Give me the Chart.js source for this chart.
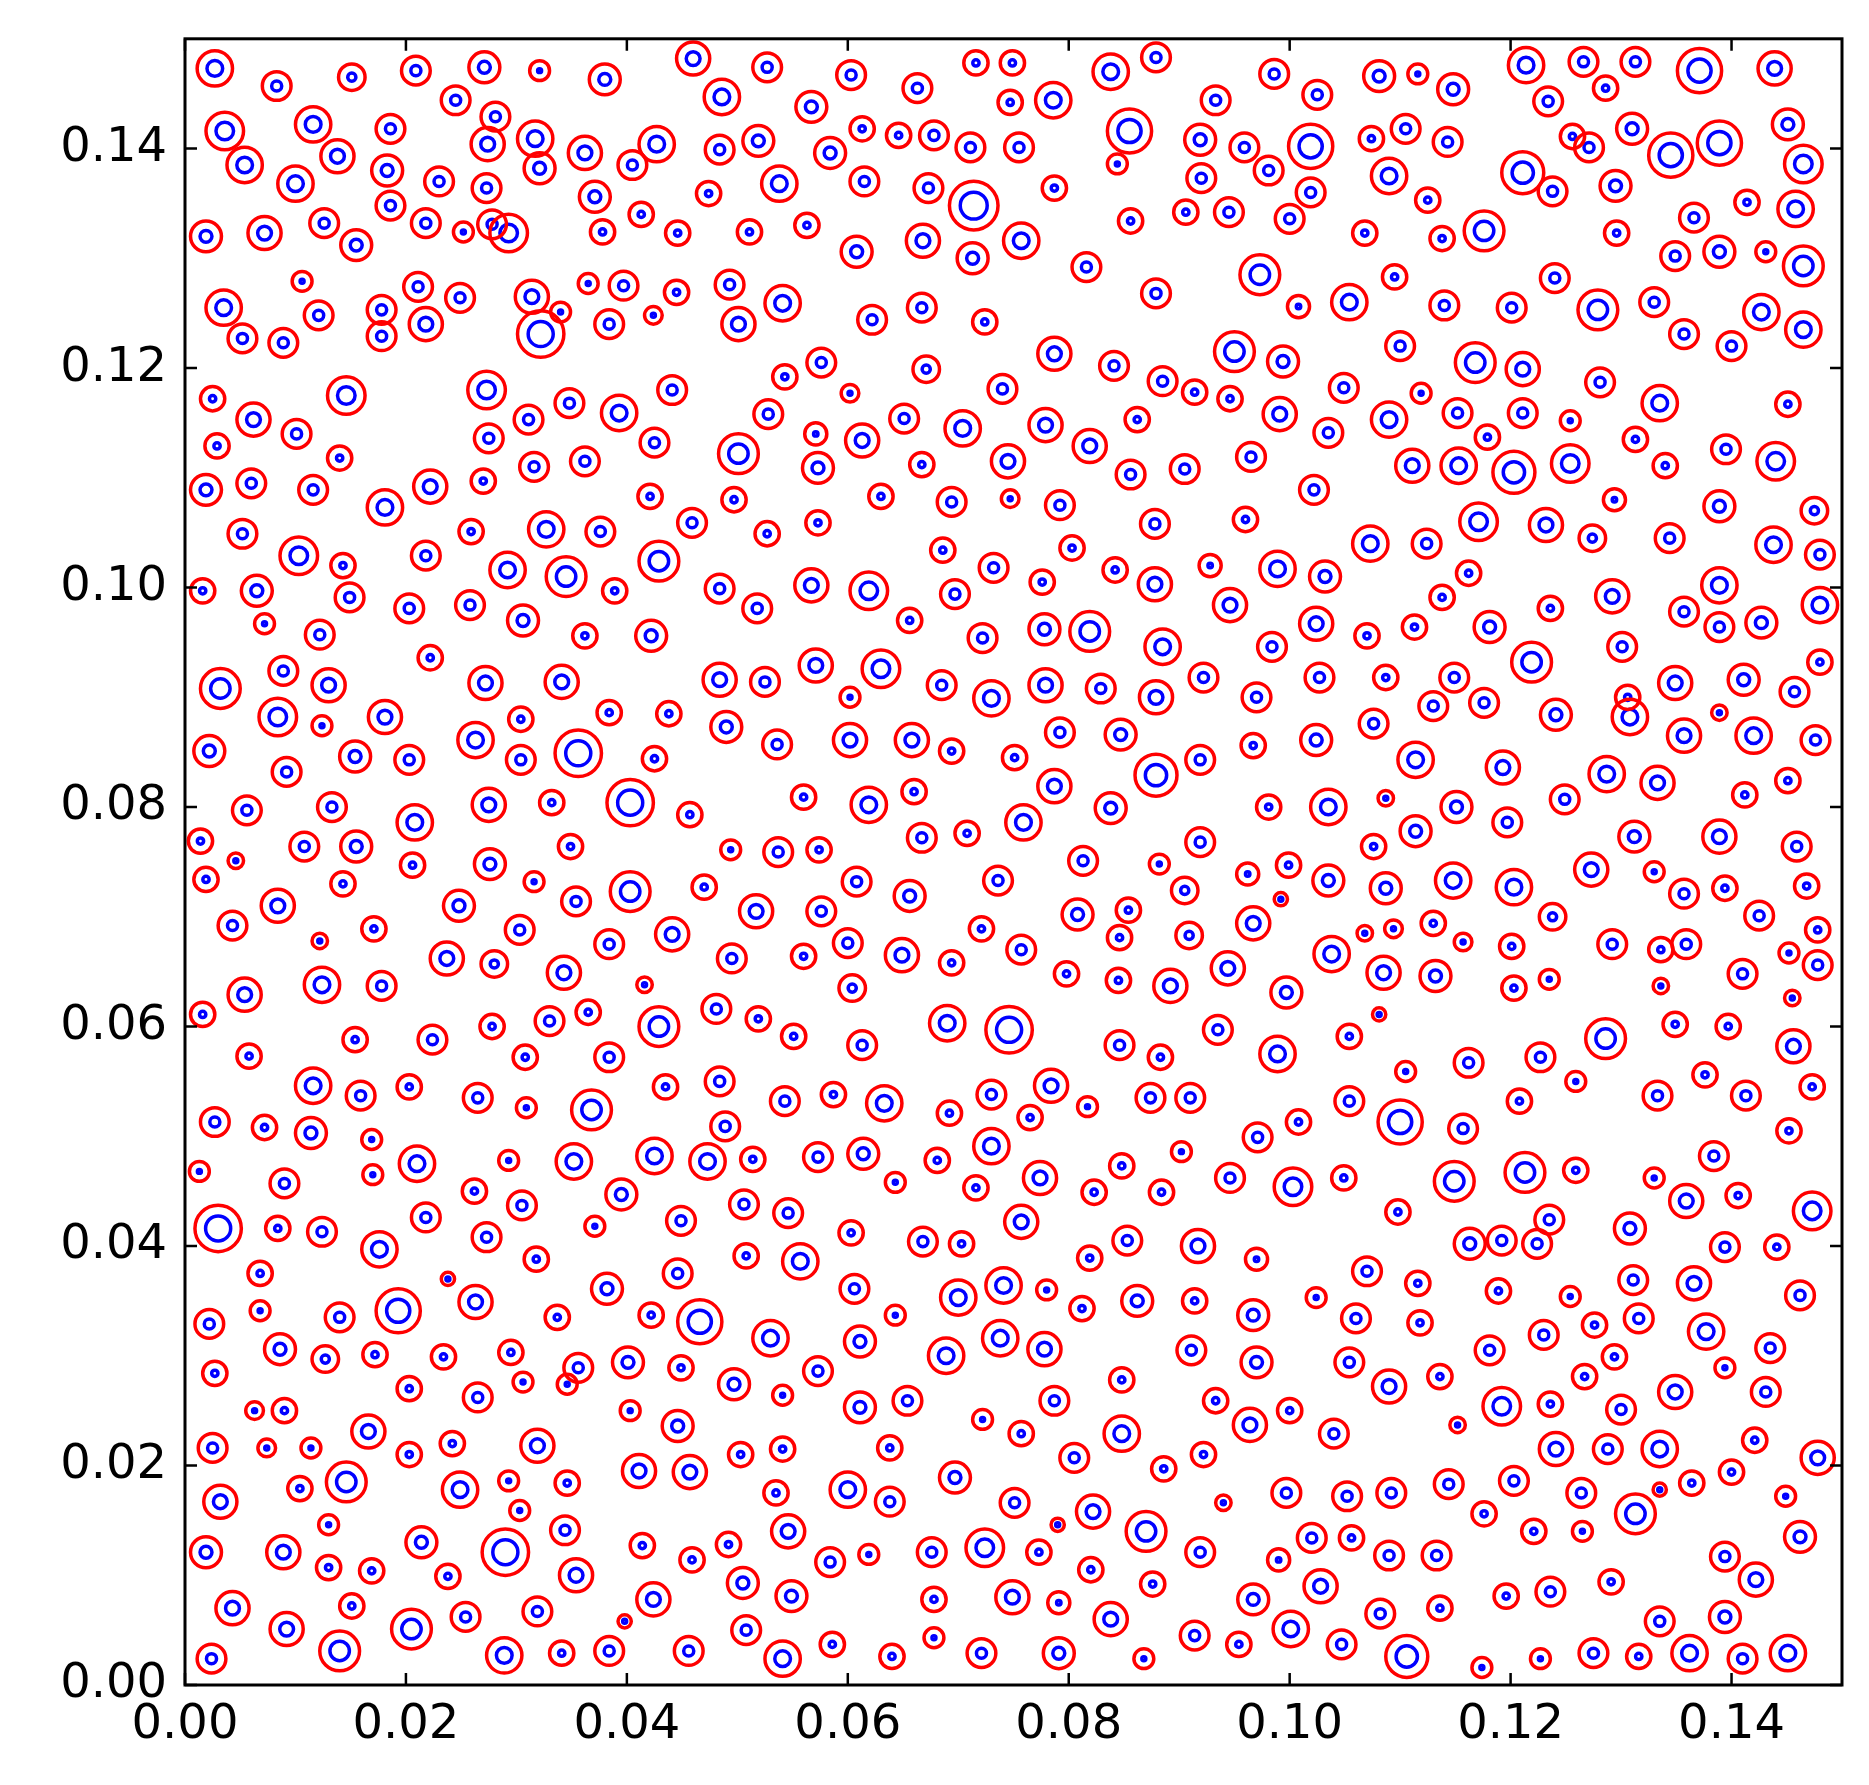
<!DOCTYPE html>
<html>
<head>
<meta charset="utf-8">
<script src="https://cdn.jsdelivr.net/npm/chart.js@4.4.1/dist/chart.umd.min.js"></script>
<style>
  body { margin: 0; background: #fff; }
  #wrap { width: 1869px; height: 1785px; }
</style>
</head>
<body>
<div id="wrap"><canvas id="myChart" width="1869" height="1785"></canvas></div>
<script>
// tick values on both axes
const xTicks = [0, 0.02, 0.04, 0.06, 0.08, 0.10, 0.12, 0.14];
const yTicks = [0, 0.02, 0.04, 0.06, 0.08, 0.10, 0.12, 0.14];

// particles: [x, y, outer shell radius] (all in data units)
const shells = [
[.0027,.1473,.0016],[.0083,.1457,.0013],[.0151,.1465,.0012],[.0209,.1471,.0013],[.0245,.1444,.0013],[.0271,.1474,.0014],[.0321,.1471,.0009],[.038,.1463,.0014],[.046,.1482,.0015],[.0486,.1447,.0016],[.0527,.1474,.0013],[.0567,.1438,.0014],[.0603,.1467,.0013],[.0663,.1455,.0013],[.0716,.1478,.0011],[.0749,.1478,.0011],[.0747,.1442,.0011],[.0786,.1444,.0016],[.0838,.1470,.0016],[.0879,.1483,.0013],[.0855,.1416,.002],[.0933,.1444,.0013],[.0986,.1468,.0013],[.1025,.1449,.0013],[.1081,.1466,.0014],[.1116,.1468,.0009],[.1148,.1454,.0014],[.1214,.1476,.0016],[.1234,.1443,.0013],[.1266,.1479,.0013],[.1286,.1455,.0011],[.1313,.1479,.0013],[.1371,.1471,.002],[.1439,.1473,.0015],[.1451,.1422,.0014],[.1389,.1405,.002],
[.0036,.1416,.0017],[.0116,.1422,.0016],[.0186,.1418,.0013],[.0281,.1429,.0013],[.0317,.1409,.0016],[.0362,.1396,.0015],[.0427,.1404,.0016],[.0519,.1407,.0014],[.0613,.1418,.0011],[.0678,.1412,.0013],[.1019,.1402,.002],[.1105,.1418,.0013],[.1074,.1409,.0011],[.1256,.1411,.0011],[.1310,.1418,.0014],
[.0054,.1385,.0016],[.0138,.1393,.0015],[.0183,.1380,.0014],[.0274,.1404,.0015],[.0321,.1382,.0014],[.0405,.1385,.0013],[.0484,.1399,.0013],[.0584,.1396,.0014],[.0646,.1412,.0011],[.0711,.1401,.0013],[.0755,.1401,.0013],[.0844,.1386,.0009],[.0919,.1408,.0014],[.0959,.1401,.0013],[.1143,.1406,.0013],[.1211,.1378,.0019],[.1271,.1401,.0013],[.1345,.1394,.002],[.1465,.1386,.0017],
[.0019,.1320,.0014],[.0100,.1368,.0016],[.0126,.1332,.0013],[.0186,.1348,.0013],[.0230,.1370,.0013],[.0273,.1364,.0013],[.0278,.1331,.0013],[.0371,.1356,.0014],[.0413,.1340,.0011],[.0474,.1359,.0011],[.0538,.1368,.0016],[.0615,.1370,.0013],[.0673,.1364,.0013],[.0714,.1348,.0022],[.0787,.1364,.0011],[.0920,.1373,.0013],[.0981,.1380,.0013],[.1019,.1360,.0013],[.1090,.1375,.0016],[.1125,.1353,.0011],[.1238,.1361,.0013],[.1295,.1366,.0014],[.1366,.1337,.0013],[.1414,.1351,.0011],[.1458,.1345,.0016],
[.0072,.1323,.0015],[.0155,.1312,.0014],[.0218,.1332,.0013],[.0252,.1324,.0009],[.0293,.1323,.0017],[.0378,.1324,.0011],[.0446,.1323,.0011],[.0511,.1324,.0011],[.0563,.1330,.0011],[.0668,.1316,.0015],[.0757,.1316,.0016],[.0856,.1334,.0011],[.0906,.1342,.0011],[.0945,.1342,.0013],[.1000,.1336,.0013],[.1068,.1323,.0011],[.1138,.1318,.0011],[.1176,.1325,.0018],[.1296,.1323,.0011],[.1389,.1306,.0014],[.1431,.1306,.0009],[.1465,.1293,.0018],
[.0106,.1279,.0009],[.0035,.1255,.0016],[.0121,.1248,.0013],[.0178,.1253,.0013],[.0211,.1274,.0013],[.0249,.1264,.0013],[.0314,.1265,.0015],[.0340,.1251,.0009],[.0365,.1277,.0009],[.0397,.1275,.0013],[.0424,.1248,.0008],[.0445,.1269,.0011],[.0493,.1276,.0013],[.0541,.1259,.0016],[.0608,.1306,.0014],[.0622,.1244,.0013],[.0667,.1255,.0013],[.0713,.1300,.0014],[.0724,.1242,.0011],[.0816,.1292,.0013],[.0879,.1268,.0013],[.0973,.1285,.0018],[.1008,.1256,.0010],[.1054,.1260,.0016],[.1095,.1283,.0011],[.1140,.1257,.0013],[.1201,.1255,.0013],[.1240,.1282,.0013],[.1279,.1253,.0018],[.1330,.1260,.0013],[.1349,.1302,.0013],[.1427,.1251,.0016],[.1465,.1235,.0016],
[.0025,.1172,.0011],[.0052,.1227,.0013],[.0089,.1223,.0013],[.0029,.1129,.0011],[.0062,.1153,.0015],[.0101,.1140,.0013],[.0146,.1175,.0017],[.0178,.1229,.0013],[.0218,.1240,.0015],[.0273,.1180,.0017],[.0275,.1136,.0013],[.0311,.1153,.0013],[.0322,.1231,.0021],[.0348,.1168,.0013],[.0384,.1240,.0013],[.0393,.1159,.0016],[.0441,.1180,.0013],[.0425,.1132,.0013],[.0501,.1240,.0015],[.0543,.1192,.0011],[.0576,.1205,.0013],[.0528,.1158,.0013],[.0501,.1122,.0018],[.0571,.1140,.0010],[.0573,.1109,.0014],[.0602,.1177,.0008],[.0613,.1134,.0015],[.0651,.1154,.0013],[.0671,.1199,.0012],[.0667,.1112,.0011],[.0704,.1145,.0016],[.0740,.1181,.0013],[.0745,.1115,.0015],[.0779,.1148,.0015],[.0787,.1213,.0015],[.0841,.1202,.0013],[.0819,.1129,.0015],[.0862,.1153,.0011],[.0885,.1188,.0013],[.0914,.1178,.0011],[.0946,.1172,.0011],[.0950,.1215,.0018],[.0994,.1206,.0014],[.0991,.1158,.0015],[.1035,.1141,.0013],[.1049,.1182,.0013],[.1100,.1220,.0013],[.1090,.1153,.0016],[.1119,.1177,.0009],[.1168,.1205,.0018],[.1211,.1199,.0015],[.1152,.1159,.0013],[.1179,.1137,.0011],[.1211,.1159,.0013],[.1254,.1152,.0009],[.1281,.1187,.0013],[.1335,.1168,.0016],[.1357,.1231,.0013],[.1400,.1220,.0013],[.1451,.1167,.0011],
[.1440,.1115,.0017],[.1395,.1126,.0013],[.1340,.1111,.0011],[.1313,.1135,.0011],[.1254,.1113,.0017],[.1203,.1105,.0019],[.1153,.1111,.0016],[.1111,.1111,.0015],[.1022,.1089,.0013],[.0965,.1119,.0013],[.0905,.1108,.0013],[.0856,.1103,.0013],[.0792,.1075,.0013],[.0747,.1081,.0008],[.0694,.1078,.0013],[.0630,.1083,.0011],[.0497,.1080,.0011],[.0421,.1083,.0011],[.0362,.1115,.0013],[.0316,.1110,.0013],[.0222,.1092,.0015],[.0270,.1097,.0011],[.0181,.1073,.0016],[.0140,.1118,.0011],[.0116,.1089,.0013],[.0060,.1095,.0013],[.0019,.1089,.0014],
[.0052,.1049,.0013],[.0103,.1029,.0017],[.0143,.1020,.0011],[.0218,.1029,.0013],[.0259,.1051,.0011],[.0327,.1053,.0016],[.0376,.1051,.0013],[.0429,.1024,.0018],[.0459,.1059,.0013],[.0527,.1049,.0011],[.0573,.1059,.0011],[.0686,.1034,.0011],[.0732,.1018,.0013],[.0803,.1036,.0011],[.0878,.1058,.0013],[.0960,.1062,.0011],[.1073,.1040,.0016],[.1124,.1040,.0013],[.1171,.1060,.0017],[.1232,.1057,.0015],[.1274,.1045,.0012],[.1294,.1080,.0010],[.1344,.1045,.0013],[.1389,.1074,.0014],[.1475,.1070,.0012],[.1438,.1039,.0016],[.1480,.1030,.0013],
[.0016,.0997,.0011],[.0065,.0997,.0014],[.0072,.0967,.0009],[.0122,.0957,.0013],[.0149,.0991,.0013],[.0203,.0981,.0013],[.0258,.0984,.0013],[.0292,.1016,.0016],[.0345,.1010,.0018],[.0306,.0970,.0014],[.0362,.0956,.0011],[.0389,.0997,.0011],[.0422,.0956,.0014],[.0484,.0999,.0013],[.0518,.0981,.0013],[.0567,.1002,.0015],[.0619,.0997,.0017],[.0656,.0970,.0011],[.0697,.0994,.0013],[.0722,.0954,.0013],[.0776,.1005,.0011],[.0778,.0962,.0014],[.0819,.0960,.0018],[.0842,.1016,.0011],[.0878,.1003,.0015],[.0885,.0946,.0016],[.0928,.1020,.0010],[.0946,.0984,.0015],[.0989,.1017,.0016],[.1032,.1010,.0014],[.1024,.0967,.0015],[.0984,.0946,.0013],[.1070,.0956,.0011],[.1113,.0964,.0011],[.1138,.0991,.0011],[.1162,.1013,.0011],[.1181,.0964,.0014],[.1219,.0932,.0018],[.1236,.0981,.0011],[.1292,.0992,.0015],[.1301,.0946,.0013],[.1357,.0978,.0013],[.1389,.1002,.0016],[.1389,.0964,.0013],[.1427,.0968,.0014],[.1480,.0984,.0016],[.1480,.0932,.0011],
[.1457,.0905,.0013],[.1411,.0916,.0014],[.1349,.0913,.0015],[.1306,.0900,.0011],[.1389,.0886,.0007],[.1357,.0865,.0015],[.1420,.0865,.0016],[.1476,.0861,.0013],[.1308,.0882,.0016],[.1241,.0884,.0014],[.1176,.0895,.0013],[.1149,.0918,.0013],[.1130,.0892,.0013],[.1087,.0918,.0011],[.1076,.0876,.0013],[.1114,.0843,.0016],[.1193,.0836,.0015],[.1249,.0807,.0013],[.1287,.0830,.0016],[.1333,.0822,.0015],[.1412,.0811,.0011],[.1451,.0824,.0011],[.1027,.0918,.0013],[.1024,.0861,.0014],[.0970,.0900,.0013],[.0967,.0856,.0011],[.0922,.0918,.0013],[.0919,.0843,.0013],[.0879,.0900,.0015],[.0879,.0829,.0019],[.0847,.0866,.0014],[.0829,.0908,.0013],[.0792,.0868,.0013],[.0779,.0911,.0015],[.0730,.0899,.0016],[.0751,.0845,.0011],[.0685,.0911,.0013],[.0694,.0851,.0011],[.0658,.0861,.0015],[.0602,.0861,.0015],[.0630,.0926,.0017],[.0571,.0929,.0015],[.0602,.0900,.0009],[.0525,.0914,.0013],[.0484,.0916,.0015],[.0490,.0873,.0014],[.0536,.0857,.0013],[.0438,.0885,.0011],[.0425,.0844,.0011],[.0384,.0886,.0011],[.0356,.0849,.0021],[.0341,.0914,.0015],[.0304,.0880,.0011],[.0304,.0843,.0013],[.0263,.0861,.0016],[.0272,.0913,.0015],[.0222,.0936,.0011],[.0203,.0843,.0013],[.0181,.0882,.0015],[.0154,.0846,.0014],[.0130,.0911,.0015],[.0124,.0874,.0009],[.0089,.0924,.0013],[.0084,.0882,.0017],[.0032,.0908,.0018],[.0022,.0851,.0014],[.0092,.0832,.0013],[.0056,.0797,.0013],
[.0014,.0769,.0011],[.0019,.0734,.0011],[.0046,.0751,.0007],[.0084,.0710,.0015],[.0043,.0692,.0013],[.0108,.0764,.0013],[.0133,.0800,.0013],[.0155,.0764,.0014],[.0143,.0730,.0011],[.0122,.0678,.0007],[.0208,.0786,.0016],[.0206,.0747,.0011],[.0171,.0689,.0011],[.0275,.0802,.0015],[.0276,.0748,.0014],[.0248,.0710,.0014],[.0237,.0662,.0015],[.0280,.0657,.0012],[.0316,.0732,.0009],[.0332,.0804,.0011],[.0349,.0764,.0011],[.0354,.0714,.0013],[.0303,.0688,.0013],[.0343,.0649,.0015],[.0384,.0675,.0013],[.0403,.0804,.0021],[.0403,.0723,.0018],[.0457,.0793,.0011],[.0470,.0727,.0011],[.0441,.0684,.0015],[.0416,.0638,.0007],[.0494,.0761,.0009],[.0517,.0705,.0015],[.0537,.0759,.0013],[.0495,.0662,.0013],[.0574,.0761,.0011],[.0576,.0705,.0013],[.0560,.0664,.0011],[.0600,.0676,.0013],[.0604,.0635,.0012],[.0608,.0732,.0013],[.0560,.0809,.0011],[.0619,.0802,.0016],[.0660,.0814,.0011],[.0667,.0772,.0013],[.0656,.0719,.0014],[.0649,.0665,.0015],[.0694,.0658,.0011],[.0708,.0776,.0011],[.0736,.0733,.0013],[.0721,.0689,.0011],[.0759,.0786,.0016],[.0757,.0670,.0013],[.0787,.0819,.0015],[.0838,.0799,.0014],[.0813,.0751,.0013],[.0808,.0702,.0014],[.0798,.0648,.0011],[.0846,.0681,.0011],[.0845,.0642,.0011],[.0854,.0706,.0011],[.0882,.0748,.0009],[.0905,.0724,.0012],[.0919,.0768,.0013],[.0909,.0683,.0012],[.0892,.0637,.0015],[.0944,.0653,.0015],[.0962,.0739,.0010],[.0992,.0716,.0006],[.0999,.0747,.0011],[.0967,.0694,.0015],[.0981,.0800,.0011],[.1035,.0800,.0016],[.1035,.0733,.0014],[.1038,.0666,.0016],[.0997,.0631,.0014],[.1076,.0764,.0011],[.1087,.0726,.0014],[.1068,.0685,.0007],[.1094,.0689,.0008],[.1087,.0808,.0007],[.1114,.0778,.0014],[.1130,.0694,.0011],[.1085,.0649,.0015],[.1132,.0646,.0014],[.1157,.0677,.0008],[.1151,.0800,.0014],[.1148,.0733,.0016],[.1197,.0786,.0013],[.1203,.0727,.0016],[.1201,.0673,.0011],[.1203,.0635,.0011],[.1238,.0700,.0012],[.1235,.0643,.0009],[.1273,.0743,.0015],[.1292,.0675,.0013],[.1312,.0773,.0014],[.1330,.0741,.0009],[.1336,.0670,.0011],[.1357,.0721,.0013],[.1359,.0675,.0013],[.1389,.0773,.0015],[.1394,.0726,.0011],[.1425,.0701,.0013],[.1410,.0648,.0013],[.1459,.0764,.0013],[.1468,.0728,.0011],[.1478,.0688,.0011],[.1452,.0667,.0009],[.1478,.0656,.0013],[.1455,.0626,.0007],
[.0016,.0611,.0011],[.0054,.0629,.0015],[.0058,.0573,.0011],[.0124,.0638,.0016],[.0178,.0637,.0013],[.0154,.0588,.0011],[.0224,.0588,.0013],[.0278,.0600,.0011],[.0330,.0605,.0013],[.0365,.0613,.0011],[.0308,.0572,.0011],[.0384,.0572,.0013],[.0429,.0600,.0018],[.0481,.0616,.0013],[.0519,.0607,.0011],[.0551,.0591,.0011],[.0613,.0583,.0013],[.0690,.0603,.0016],[.0746,.0597,.0021],[.0846,.0583,.0013],[.0883,.0572,.0011],[.0935,.0597,.0013],[.0989,.0575,.0016],[.1054,.0591,.0011],[.1081,.0611,.0006],[.1105,.0559,.0009],[.1162,.0567,.0013],[.1227,.0572,.0013],[.1286,.0589,.0018],[.1349,.0602,.0011],[.1336,.0637,.0007],[.1397,.0600,.0011],[.1456,.0582,.0015],[.1473,.0545,.0011],[.1413,.0537,.0013],[.1376,.0556,.0011],[.1333,.0537,.0013],[.1259,.0550,.0009],[.1208,.0532,.0011],[.1157,.0507,.0013],[.1100,.0513,.0020],[.1054,.0532,.0013],[.1008,.0513,.0011],[.0971,.0499,.0013],[.0946,.0462,.0013],[.0910,.0535,.0013],[.0902,.0486,.0009],[.0874,.0535,.0013],[.0848,.0473,.0011],[.0884,.0449,.0011],[.0817,.0527,.0009],[.0784,.0546,.0015],[.0765,.0517,.0011],[.0730,.0538,.0013],[.0730,.0491,.0016],[.0774,.0462,.0015],[.0823,.0449,.0011],[.0692,.0521,.0011],[.0681,.0478,.0011],[.0633,.0530,.0016],[.0587,.0538,.0011],[.0543,.0532,.0013],[.0614,.0484,.0014],[.0573,.0481,.0013],[.0514,.0479,.0011],[.0489,.0509,.0013],[.0484,.0550,.0013],[.0435,.0545,.0011],[.0425,.0482,.0016],[.0473,.0477,.0016],[.0368,.0524,.0018],[.0352,.0477,.0016],[.0309,.0526,.0009],[.0265,.0535,.0013],[.0203,.0545,.0011],[.0159,.0537,.0013],[.0116,.0546,.0016],[.0072,.0508,.0011],[.0027,.0513,.0013],[.0114,.0503,.0014],[.0169,.0497,.0009],[.0210,.0475,.0016],[.0170,.0465,.0009],[.0090,.0457,.0013],[.0013,.0468,.0009],
[.0030,.0416,.0021],[.0084,.0416,.0011],[.0124,.0413,.0013],[.0176,.0397,.0016],[.0218,.0426,.0013],[.0262,.0450,.0011],[.0273,.0408,.0013],[.0293,.0478,.0009],[.0305,.0437,.0013],[.0371,.0418,.0009],[.0395,.0447,.0014],[.0449,.0423,.0013],[.0506,.0438,.0013],[.0546,.0430,.0013],[.0603,.0412,.0011],[.0643,.0458,.0009],[.0668,.0404,.0013],[.0716,.0453,.0011],[.0757,.0422,.0015],[.0853,.0405,.0013],[.1003,.0454,.0017],[.1049,.0462,.0011],[.1098,.0431,.0011],[.1149,.0459,.0018],[.1213,.0467,.0018],[.1259,.0469,.0011],[.1235,.0424,.0013],[.1330,.0462,.0009],[.1359,.0441,.0015],[.1406,.0446,.0011],[.1384,.0482,.0013],[.1452,.0505,.0011],[.1473,.0432,.0017],[.1308,.0416,.0014],
[.0068,.0375,.0011],[.0068,.0341,.0009],[.0022,.0329,.0013],[.0027,.0284,.0011],[.0086,.0306,.0014],[.0140,.0335,.0013],[.0127,.0297,.0012],[.0193,.0341,.0020],[.0172,.0301,.0011],[.0238,.0370,.0006],[.0263,.0349,.0015],[.0234,.0299,.0011],[.0203,.0270,.0011],[.0295,.0303,.0011],[.0318,.0388,.0011],[.0337,.0335,.0011],[.0356,.0289,.0013],[.0382,.0361,.0014],[.0422,.0337,.0011],[.0446,.0375,.0013],[.0466,.0331,.0020],[.0401,.0294,.0014],[.0449,.0289,.0011],[.0557,.0386,.0016],[.0508,.0391,.0011],[.0530,.0316,.0016],[.0573,.0286,.0013],[.0606,.0361,.0013],[.0611,.0313,.0014],[.0643,.0337,.0009],[.0700,.0353,.0016],[.0741,.0364,.0016],[.0703,.0402,.0011],[.0780,.0360,.0009],[.0738,.0316,.0016],[.0689,.0300,.0016],[.0778,.0306,.0015],[.0812,.0343,.0011],[.0862,.0350,.0014],[.0819,.0389,.0011],[.0917,.0400,.0015],[.0914,.0350,.0011],[.0911,.0305,.0013],[.0970,.0388,.0010],[.0967,.0337,.0014],[.0970,.0294,.0014],[.1024,.0353,.0009],[.1060,.0334,.0013],[.1070,.0377,.0013],[.1054,.0294,.0013],[.1116,.0366,.0011],[.1118,.0330,.0011],[.1136,.0281,.0011],[.1090,.0272,.0015],[.1163,.0402,.0014],[.1189,.0359,.0011],[.1181,.0305,.0013],[.1192,.0405,.0013],[.1224,.0402,.0013],[.1254,.0354,.0009],[.1230,.0319,.0013],[.1276,.0328,.0011],[.1267,.0281,.0011],[.1294,.0299,.0011],[.1311,.0369,.0013],[.1316,.0334,.0013],[.1366,.0366,.0015],[.1377,.0322,.0016],[.1394,.0289,.0009],[.1435,.0307,.0013],[.1431,.0267,.0013],[.1462,.0355,.0013],[.1441,.0399,.0011],[.1394,.0399,.0013],[.1349,.0267,.0015],[.1300,.0251,.0013],[.1236,.0256,.0011],[.1192,.0254,.0017],[.1152,.0237,.0007],[.1040,.0229,.0013],[.1000,.0250,.0011],[.0933,.0259,.0011],[.0964,.0237,.0015],[.0848,.0229,.0016],[.0848,.0278,.0011],[.0787,.0259,.0013],[.0757,.0229,.0011],[.0722,.0242,.0009],[.0654,.0259,.0013],[.0611,.0253,.0014],[.0541,.0264,.0009],[.0497,.0274,.0014],[.0446,.0236,.0014],[.0403,.0250,.0009],[.0346,.0274,.0009],[.0306,.0276,.0009],[.0265,.0262,.0013],[.0319,.0218,.0015],[.0242,.0220,.0011],[.0166,.0231,.0015],[.0203,.0210,.0011],[.0114,.0216,.0009],[.0090,.0250,.0011],[.0063,.0250,.0008],[.0074,.0216,.0008],[.0025,.0216,.0013],
[.0032,.0167,.0015],[.0019,.0121,.0014],[.0043,.0070,.0015],[.0024,.0024,.0013],[.0089,.0121,.0015],[.0104,.0179,.0011],[.0146,.0185,.0018],[.0130,.0146,.0009],[.0130,.0107,.0011],[.0092,.0051,.0015],[.0140,.0031,.0018],[.0151,.0072,.0011],[.0169,.0104,.0011],[.0205,.0051,.0018],[.0214,.0130,.0014],[.0249,.0178,.0016],[.0238,.0099,.0011],[.0254,.0062,.0013],[.0290,.0121,.0021],[.0293,.0186,.0009],[.0303,.0159,.0009],[.0289,.0027,.0016],[.0319,.0067,.0013],[.0346,.0184,.0011],[.0344,.0141,.0013],[.0354,.0100,.0015],[.0341,.0029,.0011],[.0384,.0031,.0013],[.0398,.0058,.0006],[.0414,.0127,.0011],[.0424,.0078,.0015],[.0411,.0195,.0015],[.0457,.0194,.0015],[.0459,.0114,.0011],[.0456,.0031,.0013],[.0492,.0128,.0011],[.0505,.0093,.0014],[.0508,.0050,.0013],[.0503,.0210,.0011],[.0535,.0175,.0011],[.0541,.0215,.0011],[.0546,.0140,.0015],[.0549,.0081,.0014],[.0541,.0024,.0016],[.0584,.0112,.0013],[.0586,.0037,.0011],[.0600,.0178,.0016],[.0619,.0119,.0009],[.0638,.0167,.0013],[.0638,.0216,.0011],[.0640,.0026,.0011],[.0678,.0078,.0011],[.0678,.0043,.0009],[.0676,.0121,.0013],[.0697,.0189,.0014],[.0724,.0125,.0017],[.0721,.0029,.0013],[.0751,.0166,.0013],[.0749,.0080,.0015],[.0773,.0121,.0011],[.0790,.0146,.0006],[.0791,.0075,.0010],[.0791,.0029,.0014],[.0805,.0207,.0013],[.0822,.0158,.0015],[.0820,.0105,.0011],[.0838,.0060,.0015],[.0870,.0140,.0018],[.0868,.0024,.0009],[.0876,.0092,.0011],[.0886,.0197,.0011],[.0922,.0210,.0011],[.0919,.0121,.0013],[.0914,.0045,.0013],[.0940,.0166,.0007],[.0954,.0037,.0011],[.0967,.0078,.0014],[.0990,.0114,.0010],[.0997,.0175,.0013],[.1001,.0051,.0016],[.1020,.0134,.0013],[.1028,.0090,.0015],[.1047,.0037,.0013],[.1052,.0172,.0013],[.1056,.0134,.0011],[.1082,.0065,.0013],[.1090,.0118,.0013],[.1092,.0175,.0013],[.1106,.0026,.0019],[.1133,.0118,.0013],[.1136,.0070,.0011],[.1144,.0183,.0013],[.1176,.0156,.0011],[.1174,.0016,.0009],[.1196,.0081,.0011],[.1203,.0186,.0013],[.1221,.0140,.0011],[.1227,.0024,.0009],[.1236,.0085,.0013],[.1241,.0215,.0015],[.1264,.0175,.0013],[.1265,.0140,.0009],[.1288,.0215,.0013],[.1291,.0094,.0011],[.1275,.0029,.0013],[.1313,.0156,.0018],[.1316,.0026,.0011],[.1335,.0215,.0016],[.1335,.0058,.0013],[.1335,.0178,.0006],[.1364,.0184,.0011],[.1362,.0029,.0016],[.1394,.0117,.0013],[.1394,.0062,.0014],[.1400,.0194,.0011],[.1410,.0024,.0013],[.1421,.0223,.0011],[.1422,.0096,.0015],[.1449,.0172,.0009],[.1462,.0135,.0014],[.1451,.0029,.0016],[.1478,.0207,.0015]
];

const outerPoints = shells.map(s => ({ x: s[0], y: s[1], r: s[2] }));
// inner (core) ring radius shrinks faster than the shell
const innerPoints = shells.map(s => ({ x: s[0], y: s[1], r: Math.max(0.00018, 0.85 * s[2] - 0.00065) }));

// data-units radius -> pixels, using the x scale
function pxRadius(ctx) {
    const sx = ctx.chart.scales.x;
    if (!sx || !ctx.raw) return 0;
    return Math.abs(sx.getPixelForValue(ctx.raw.r) - sx.getPixelForValue(0));
}

// inward ticks on all four sides + black frame
const frameTicks = {
    id: 'frameTicks',
    afterDraw(chart) {
        const c = chart.ctx, a = chart.chartArea;
        const sx = chart.scales.x, sy = chart.scales.y;
        c.save();
        c.strokeStyle = '#000';
        c.lineWidth = 2.5;
        const len = 12;
        xTicks.forEach(v => {
            const p = sx.getPixelForValue(v);
            c.beginPath();
            c.moveTo(p, a.bottom); c.lineTo(p, a.bottom - len);
            c.moveTo(p, a.top); c.lineTo(p, a.top + len);
            c.stroke();
        });
        yTicks.forEach(v => {
            const p = sy.getPixelForValue(v);
            c.beginPath();
            c.moveTo(a.left, p); c.lineTo(a.left + len, p);
            c.moveTo(a.right, p); c.lineTo(a.right - len, p);
            c.stroke();
        });
        c.lineWidth = 3;
        c.strokeRect(a.left, a.top, a.right - a.left, a.bottom - a.top);
        c.restore();
    }
};

const ctx = document.getElementById('myChart').getContext('2d');
new Chart(ctx, {
    type: 'scatter',
    data: {
        datasets: [
            {
                data: outerPoints,
                borderColor: '#ff0000',
                backgroundColor: 'rgba(0,0,0,0)',
                pointBorderWidth: 3.5,
                pointRadius: pxRadius,
                clip: 0
            },
            {
                data: innerPoints,
                borderColor: '#0000ff',
                backgroundColor: 'rgba(0,0,0,0)',
                pointBorderWidth: 3.5,
                pointRadius: pxRadius,
                clip: 0
            }
        ]
    },
    options: {
        responsive: false,
        animation: false,
        events: [],
        layout: { padding: { top: 14, right: 27, left: 0, bottom: 0 } },
        plugins: { legend: { display: false }, tooltip: { enabled: false } },
        scales: {
            x: {
                min: 0, max: 0.15,
                afterBuildTicks: s => { s.ticks = xTicks.map(v => ({ value: v })); },
                afterFit: s => { s.height = 100; },
                grid: { display: false },
                border: { display: false },
                ticks: {
                    color: '#000',
                    font: { family: 'DejaVu Sans', size: 48 },
                    padding: 4,
                    maxRotation: 0,
                    callback: v => v.toFixed(2)
                }
            },
            y: {
                min: 0, max: 0.15,
                afterBuildTicks: s => { s.ticks = yTicks.map(v => ({ value: v })); },
                afterFit: s => { s.width = 185; },
                grid: { display: false },
                border: { display: false },
                ticks: {
                    color: '#000',
                    font: { family: 'DejaVu Sans', size: 48 },
                    padding: 10,
                    callback: v => v.toFixed(2)
                }
            }
        }
    },
    plugins: [frameTicks]
});
</script>
</body>
</html>
